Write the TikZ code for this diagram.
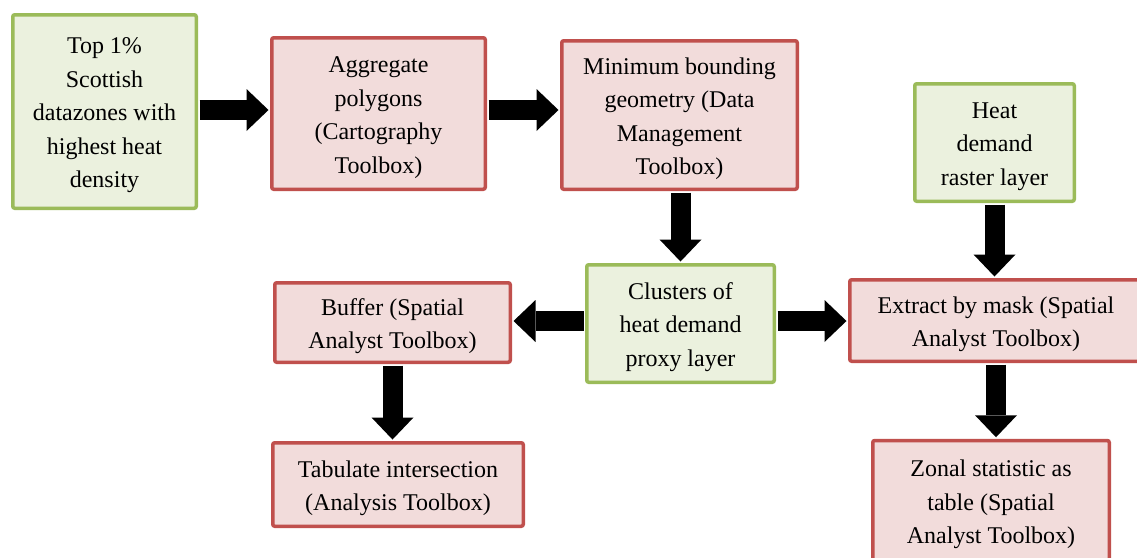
\documentclass[tikz,border=0pt]{standalone}
\usepackage{fontspec}
\setmainfont{Liberation Serif}
\usetikzlibrary{arrows.meta}
\definecolor{gborder}{HTML}{9BBB59}
\definecolor{gfill}{HTML}{EBF1DE}
\definecolor{rborder}{HTML}{C0504D}
\definecolor{rfill}{HTML}{F2DCDB}
\newcommand\mytopstrut{\rule{0pt}{24pt}}
\begin{document}
\begin{tikzpicture}[x=1pt,y=-1pt,
  box/.style={line width=3.5pt, rounded corners=2pt, align=center, inner sep=0pt,
    font=\fontsize{24}{33.5}\selectfont},
  gbox/.style={box, draw=gborder, fill=gfill},
  rbox/.style={box, draw=rborder, fill=rfill},
  flow/.style={line width=20pt, shorten >=1.5pt, shorten <=1.5pt,
    -{Triangle[width=42pt,length=22pt,line width=0pt]}}]
\clip (0,0) rectangle (1137,557);
\fill[white] (0,0) rectangle (1137,557);
\coordinate (toprow) at (0,110);
\coordinate (midrow) at (0,321);
\node[gbox, minimum width=183.5pt, minimum height=193.5pt] (b1) at (104.5,111.5)
  {\mytopstrut Top 1\%\\Scottish\\datazones with\\highest heat\\density};
\node[rbox, minimum width=213.5pt, minimum height=151.5pt] (b2) at (378.5,113.5)
  {\mytopstrut Aggregate\\polygons\\(Cartography\\Toolbox)};
\node[rbox, minimum width=235.5pt, minimum height=148.5pt] (b3) at (679.5,115)
  {\mytopstrut Minimum bounding\\geometry (Data\\Management\\Toolbox)};
\node[gbox, minimum width=159.5pt, minimum height=117.5pt] (b4) at (994.5,142.5)
  {\mytopstrut Heat\\demand\\raster layer};
\node[gbox, minimum width=187.5pt, minimum height=117.5pt] (b5) at (680.5,323.5)
  {\mytopstrut Clusters of\\heat demand\\proxy layer};
\node[rbox, minimum width=235.5pt, minimum height=79.5pt] (b6) at (392.5,322.5)
  {\mytopstrut Buffer (Spatial\\Analyst Toolbox)};
\node[rbox, minimum width=292.5pt, minimum height=81.5pt] (b7) at (996,320.5)
  {\mytopstrut Extract by mask (Spatial\\Analyst Toolbox)};
\node[rbox, minimum width=250.5pt, minimum height=83.5pt] (b8) at (398,484.5)
  {\mytopstrut Tabulate intersection\\(Analysis Toolbox)};
\node[rbox, minimum width=236.5pt, minimum height=121pt] (b9) at (991,501)
  {\mytopstrut Zonal statistic as\\table (Spatial\\Analyst Toolbox)};
\draw[flow] (b1.east |- toprow) -- (b2.west |- toprow);
\draw[flow] (b2.east |- toprow) -- (b3.west |- toprow);
\draw[flow] (b5.north |- b3.south) -- (b5.north);
\draw[flow] (b4.south) -- (b7.north -| b4.south);
\draw[flow] (b5.west |- midrow) -- (b6.east |- midrow);
\draw[flow] (b5.east |- midrow) -- (b7.west |- midrow);
\draw[flow] (b6.south) -- (b8.north -| b6.south);
\draw[flow] (b7.south) -- (b9.north -| b7.south);
\end{tikzpicture}
\end{document}
